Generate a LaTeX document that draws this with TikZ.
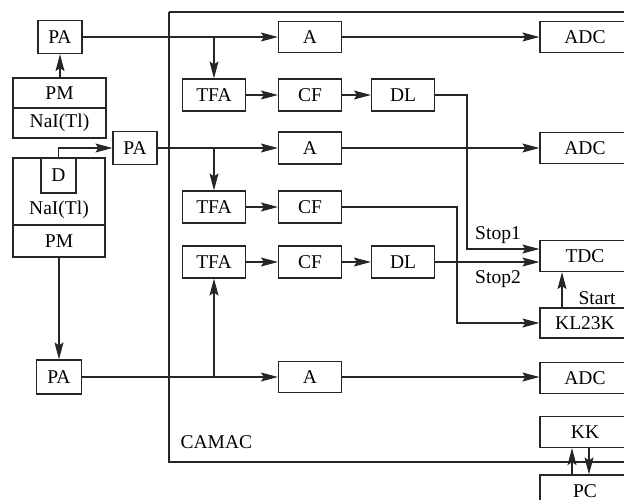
\documentclass[tikz,border=0pt]{standalone}
\usepackage{fontspec}
\setmainfont{Liberation Serif}
\usetikzlibrary{arrows.meta}
\begin{document}
\begin{tikzpicture}[x=1pt,y=-1pt,
  line width=1.2pt, draw=black!85,
  every node/.style={font=\fontsize{19.5}{22}\selectfont, inner sep=0pt},
  blk/.style={draw, minimum width=63pt, minimum height=32pt},
  pabox/.style={draw, minimum width=44pt, minimum height=33pt},
  wide/.style={draw, minimum width=93pt, minimum height=30pt},
  rbox/.style={draw, minimum width=90pt, minimum height=31pt},
  arr/.style={-{Stealth[length=17pt,width=9pt,inset=3pt]}}]
\useasboundingbox (0,0) rectangle (624,500);
\clip (0,0) rectangle (624,500);
% CAMAC crate
\draw (169,12) -- (700,12);
\draw (169,12) -- (169,462) -- (700,462);
\node[anchor=west] (camac) at (180,442) {CAMAC};
% upper detector
\node[pabox] (paT) at (60,37) {PA};
\node[wide] (pmT) at (59.5,93) {PM};
\node[wide] (naiT) at (59.5,123) {NaI(Tl)};
\draw[arr] (pmT.north -| paT.south) -- (paT.south);
% lower detector
\node[draw, minimum width=92pt, minimum height=67pt] (detL) at (59,191.5) {};
\node (naiL) at (59,210) {NaI(Tl)};
\node[draw, minimum width=35pt, minimum height=35pt] (D) at (58.5,175.5) {D};
\node[draw, minimum width=92pt, minimum height=32pt] (pmL) at (59,241) {PM};
\node[pabox] (paM) at (135,148) {PA};
\draw[arr] (D.north) |- (paM.west);
\node[pabox, minimum width=45pt, minimum height=34pt] (paB) at (59,377) {PA};
\draw[arr] (pmL.south) -- (paB.north);
% row 1
\node[blk, minimum height=31pt] (A1) at (310,37) {A};
\node[rbox] (ADC1) at (585,37) {ADC};
\node[blk] (TFA1) at (214,95) {TFA};
\node[blk] (CF1) at (310,95) {CF};
\node[blk] (DL1) at (403,95) {DL};
\coordinate (b1) at (214,37);
\draw[arr] (paT.east) -- (A1.west);
\draw[arr] (b1) -- (TFA1.north);
\draw[arr] (TFA1) -- (CF1);
\draw[arr] (CF1) -- (DL1);
\draw[arr] (A1.east) -- (ADC1.west);
% row 2
\node[blk] (A2) at (310,148) {A};
\node[rbox] (ADC2) at (585,148) {ADC};
\node[blk] (TFA2) at (214,207) {TFA};
\node[blk] (CF2) at (310,207) {CF};
\coordinate (b2) at (214,148);
\draw[arr] (paM.east) -- (A2.west);
\draw[arr] (b2) -- (TFA2.north);
\draw[arr] (TFA2) -- (CF2);
\draw[arr] (A2.east) -- (ADC2.west);
% row 3
\node[blk] (TFA3) at (214,262) {TFA};
\node[blk] (CF3) at (310,262) {CF};
\node[blk] (DL3) at (403,262) {DL};
\draw[arr] (TFA3) -- (CF3);
\draw[arr] (CF3) -- (DL3);
% timing
\node[rbox] (TDC) at (585,256) {TDC};
\node[rbox, minimum height=30pt] (KL) at (585,323) {KL23K};
\coordinate (j1) at (467,95);
\draw[arr] (DL1.east) -- (j1) |- ([yshift=7pt]TDC.west);
\draw[arr] (DL3.east) -- (DL3.east -| TDC.west);
\coordinate (j2) at (457,207);
\draw[arr] (CF2.east) -- (j2) |- (KL.west);
\draw[arr] ([xshift=-23pt]KL.north) -- ([xshift=-23pt]TDC.south);
\node (stop1) at (498,235) {Stop1};
\node (stop2) at (498,279) {Stop2};
\node (start) at (597,298) {Start};
% row 4
\node[blk, minimum height=31pt] (A3) at (310,377) {A};
\node[rbox] (ADC3) at (585,378) {ADC};
\coordinate (b3) at (214,377);
\draw[arr] (paB.east) -- (A3.west);
\draw[arr] (b3) -- (TFA3.south);
\draw[arr] (A3.east) -- (A3.east -| ADC3.west);
% KK / PC
\node[rbox] (KK) at (585,432) {KK};
\node[rbox, minimum height=32pt] (PC) at (585,491) {PC};
\draw[arr] ([xshift=-13pt]PC.north) -- ([xshift=-13pt]KK.south);
\draw[arr] ([xshift=4pt]KK.south) -- ([xshift=4pt]PC.north);
\end{tikzpicture}
\end{document}
